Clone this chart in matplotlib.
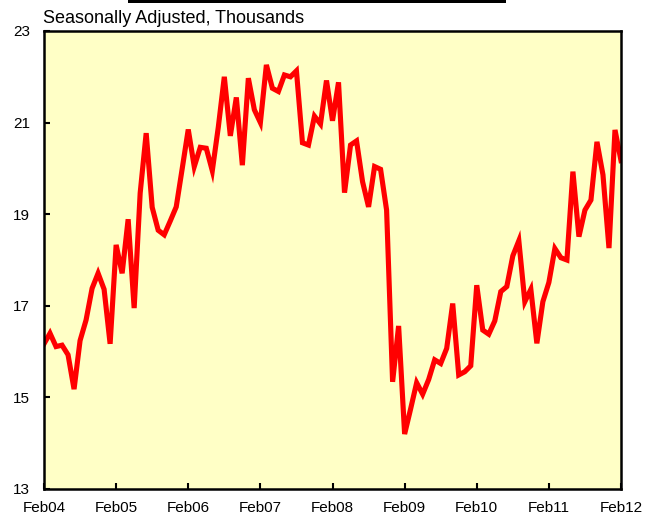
import matplotlib
matplotlib.use("Agg")
import matplotlib.pyplot as plt
from matplotlib.patches import Rectangle

# monthly values, Feb 2004 .. Feb 2012 (seasonally adjusted, thousands)
values = [
    16.17, 16.40, 16.11, 16.14, 15.93, 15.18, 16.24, 16.69, 17.38, 17.71, 17.36, 16.17,
    18.33, 17.71, 18.89, 16.95, 19.46, 20.77, 19.15, 18.65, 18.55, 18.85, 19.16, 20.00,
    20.85, 20.04, 20.46, 20.44, 19.95, 20.90, 22.00, 20.71, 21.55, 20.07, 21.97, 21.28,
    21.00, 22.26, 21.75, 21.68, 22.04, 22.00, 22.13, 20.56, 20.51, 21.14, 20.97, 21.92,
    21.04, 21.88, 19.47, 20.51, 20.60, 19.71, 19.16, 20.04, 19.98, 19.09, 15.34, 16.56,
    14.20, 14.75, 15.32, 15.07, 15.39, 15.82, 15.74, 16.07, 17.05, 15.49, 15.56, 15.69,
    17.45, 16.47, 16.38, 16.67, 17.31, 17.42, 18.09, 18.42, 17.09, 17.36, 16.18, 17.09,
    17.51, 18.25, 18.05, 18.00, 19.93, 18.51, 19.09, 19.31, 20.58, 19.86, 18.26, 20.84,
    20.17,
]
months = list(range(len(values)))

x_ticks = [0, 12, 24, 36, 48, 60, 72, 84, 96]
x_labels = ["Feb04", "Feb05", "Feb06", "Feb07", "Feb08", "Feb09", "Feb10", "Feb11", "Feb12"]
y_ticks = [13, 15, 17, 19, 21, 23]

plt.rcParams['font.family'] = ['Liberation Sans', 'DejaVu Sans']

W, H = 657, 516
fig = plt.figure(figsize=(W / 100, H / 100), dpi=100)
ax = fig.add_axes([44 / W, 1 - 489 / H, (621 - 44) / W, (489 - 31) / H])
ax.set_facecolor('#FFFFC6')

ax.plot(months, values, color='#FF0000', linewidth=3.7, solid_joinstyle='miter')

ax.set_xlim(0, 96)
ax.set_ylim(13, 23)
ax.set_xticks(x_ticks)
ax.set_xticklabels(x_labels)
ax.set_yticks(y_ticks)
ax.tick_params(axis='both', direction='in', length=4, width=1.5, labelsize=11,
               colors='black')
ax.tick_params(axis='y', pad=10)
ax.tick_params(axis='x', pad=9)
for sp in ax.spines.values():
    sp.set_linewidth(1.8)
    sp.set_color('black')

# label above the plot area
fig.text(43 / W, 1 - 27 / H, "Seasonally Adjusted, Thousands", fontsize=13,
         ha='left', va='bottom')

# black bar left from the cut-off title at the top edge
fig.patches.append(Rectangle((128 / W, 1 - 3 / H), (506 - 128) / W, 3 / H,
                             transform=fig.transFigure, facecolor='black',
                             edgecolor='none'))

fig.savefig("out.png", dpi=100)
